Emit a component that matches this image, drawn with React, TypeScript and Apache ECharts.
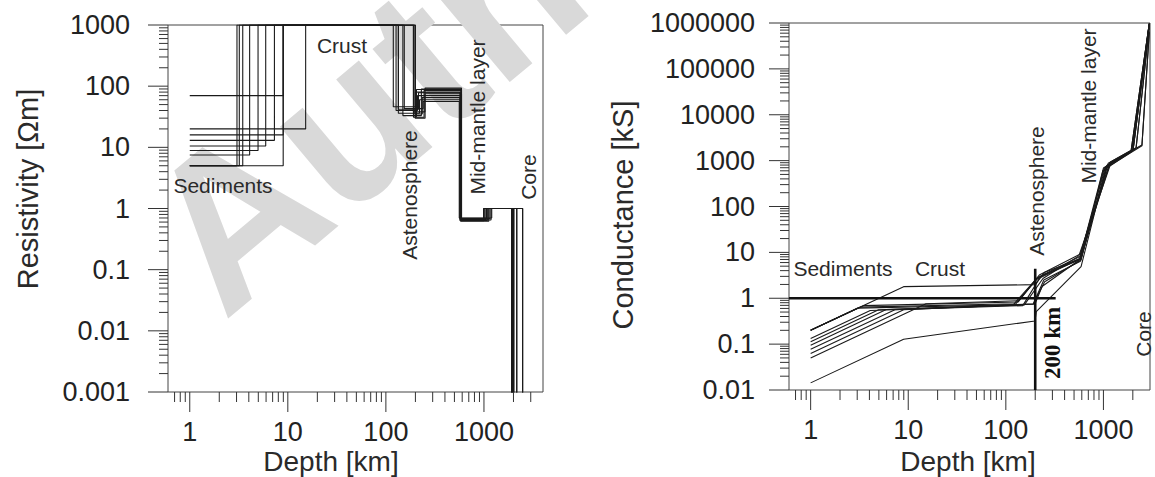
import React, { useEffect, useRef } from 'react';
import * as echarts from 'echarts';

// ---------- Left panel: layered resistivity models (one entry per model) ----------
const sedimentRes = [5, 5, 5, 5, 7.5, 8.9, 10.5, 13, 16, 20, 70];
const sedimentBase = [8.97, 3.03, 3.2, 3.47, 4.08, 4.97, 5.95, 7.3, 8.97, 15.2, 8.97];
const crustRes = [1000, 1000, 1000, 1000, 1000, 1000, 1000, 1000, 1000, 1000, 1000];
const crustBase = [199, 119, 127, 134, 149, 154, 191, 191, 199, 134, 199];
const asthenoRes = [30, 46, 40, 36, 33, 43, 38, 31, 35, 42, 32];
const asthenoBase = [251, 200, 210, 220, 230, 240, 250, 245, 235, 215, 205];
const upperMantleRes = [93, 80, 70, 60, 90, 56, 75, 85, 65, 78, 88];
const upperMantleBase = [590, 570, 575, 580, 585, 560, 590, 580, 570, 575, 590];
const midMantleRes = [0.65, 0.63, 0.66, 0.68, 0.64, 0.7, 0.66, 0.62, 0.67, 0.65, 0.69];
const midMantleBase = [1100, 1000, 1050, 1150, 1080, 1200, 990, 1120, 1020, 1180, 1060];
const lowerMantleRes = [1, 1, 1, 1, 1, 1, 1, 1, 1, 1, 1];
const coreTop = [2010, 1915, 1950, 2160, 2010, 2480, 1915, 2160, 2010, 1950, 2480];
const coreRes = [0.0008, 0.0008, 0.0008, 0.0008, 0.0008, 0.0008, 0.0008, 0.0008, 0.0008, 0.0008, 0.0008];
const profileStart = 1; // km
const profileEndLeft = 4000; // km

// ---------- Right panel: cumulative conductance (kS) at the same boundaries ----------
const condAt1km = [0.2, 0.2, 0.2, 0.2, 0.133, 0.112, 0.095, 0.077, 0.0625, 0.05, 0.0143];
const condSedBase = [1.79, 0.61, 0.64, 0.69, 0.54, 0.56, 0.57, 0.56, 0.56, 0.76, 0.128];
const condCrustBase = [1.98, 0.72, 0.76, 0.83, 0.69, 0.71, 0.75, 0.75, 0.75, 0.88, 0.32];
const condAsthBase = [3.7, 2.5, 2.8, 3.2, 3.1, 2.7, 2.3, 2.5, 1.8, 2.8, 0.51];
const condUpperBase = [7.4, 7.1, 8.1, 9.2, 7.1, 8.4, 6.8, 6.4, 6.9, 7.4, 4.9];
const condMidBase = [790, 690, 730, 850, 780, 920, 610, 880, 680, 940, 690];
const condLowerBase = [1700, 1600, 1630, 1860, 1710, 2200, 1540, 1920, 1670, 1710, 2100];
const condEnd = [950000, 980000, 960000, 800000, 940000, 650000, 990000, 800000, 940000, 960000, 620000];
const profileEndRight = 2950; // km
const refDepth = [200, 200]; // 200 km marker
const refDepthCond = [0.01, 4.4];
const refCondDepth = [0.6, 324]; // 1 kS marker
const refCond = [1, 1];

// ---------- Axis tick labels ----------
const depthMajor = [1, 10, 100, 1000];
const resMajor = [0.001, 0.01, 0.1, 1, 10, 100, 1000];
const condMajor = [0.01, 0.1, 1, 10, 100, 1000, 10000, 100000, 1000000];

const FONT = 'Liberation Sans, Arial, sans-serif';
const INK = '#1a1a1a';

function minorTicks(lo: number, hi: number) {
  const out: number[] = [];
  for (let e = -4; e <= 6; e++) {
    for (let m = 2; m <= 9; m++) {
      const v = Number((m * Math.pow(10, e)).toPrecision(6));
      if (v > lo * 1.0001 && v < hi * 0.9999) out.push(v);
    }
  }
  return out;
}

function decadeLabel(v: number) {
  const e = Math.log10(v);
  const r = Math.round(e);
  if (Math.abs(e - r) > 1e-6) return '';
  return r >= 0 ? String(Math.pow(10, r)) : Math.pow(10, r).toFixed(-r);
}

function tickSeries(idx: number, values: number[], dir: 'x' | 'y', anchor: number, len: number) {
  return {
    type: 'custom',
    xAxisIndex: idx,
    yAxisIndex: idx,
    silent: true,
    z: 4,
    data: values.map((v) => (dir === 'x' ? [v, anchor] : [anchor, v])),
    renderItem: (_p: any, api: any) => {
      const pt = api.coord([api.value(0), api.value(1)]);
      return {
        type: 'line',
        shape:
          dir === 'x'
            ? { x1: pt[0], y1: pt[1], x2: pt[0], y2: pt[1] + len }
            : { x1: pt[0], y1: pt[1], x2: pt[0] - len, y2: pt[1] },
        style: { stroke: '#333', lineWidth: 1 },
      };
    },
  };
}

function txt(text: string, x: number, y: number, size: number, rot = 0, extra: any = {}) {
  return {
    type: 'text',
    x,
    y,
    rotation: rot,
    z: 10,
    style: {
      text,
      fontSize: size,
      fontFamily: FONT,
      fill: '#2a2a2a',
      textAlign: 'center',
      textVerticalAlign: 'middle',
      ...extra,
    },
  };
}

export default function App() {
  const ref = useRef<HTMLDivElement>(null);

  useEffect(() => {
    if (!ref.current) return;
    const chart = echarts.init(ref.current, undefined, { renderer: 'svg' });
    const n = sedimentRes.length;

    const leftSeries: any[] = [];
    const rightSeries: any[] = [];
    for (let i = 0; i < n; i++) {
      const bounds = [sedimentBase[i], crustBase[i], asthenoBase[i], upperMantleBase[i], midMantleBase[i], coreTop[i]];
      const res = [sedimentRes[i], crustRes[i], asthenoRes[i], upperMantleRes[i], midMantleRes[i], lowerMantleRes[i], coreRes[i]];
      const pts: number[][] = [[profileStart, res[0]]];
      bounds.forEach((d, k) => {
        pts.push([d, res[k]]);
        pts.push([d, res[k + 1]]);
      });
      pts.push([profileEndLeft, res[res.length - 1]]);
      leftSeries.push({
        type: 'line',
        xAxisIndex: 0,
        yAxisIndex: 0,
        data: pts,
        symbol: 'none',
        silent: true,
        clip: true,
        lineStyle: { color: INK, width: 1.1 },
        z: 3,
      });

      const cpts = [
        [profileStart, condAt1km[i]],
        [sedimentBase[i], condSedBase[i]],
        [crustBase[i], condCrustBase[i]],
        [asthenoBase[i], condAsthBase[i]],
        [upperMantleBase[i], condUpperBase[i]],
        [midMantleBase[i], condMidBase[i]],
        [coreTop[i], condLowerBase[i]],
        [profileEndRight, condEnd[i]],
      ];
      rightSeries.push({
        type: 'line',
        xAxisIndex: 1,
        yAxisIndex: 1,
        data: cpts,
        symbol: 'none',
        silent: true,
        clip: true,
        lineStyle: { color: INK, width: 1.1 },
        z: 3,
      });
    }

    rightSeries.push({
      type: 'line',
      xAxisIndex: 1,
      yAxisIndex: 1,
      data: refCondDepth.map((d, k) => [d, refCond[k]]),
      symbol: 'none',
      silent: true,
      lineStyle: { color: '#111', width: 2.6 },
      z: 4,
    });
    rightSeries.push({
      type: 'line',
      xAxisIndex: 1,
      yAxisIndex: 1,
      data: refDepth.map((d, k) => [d, refDepthCond[k]]),
      symbol: 'none',
      silent: true,
      lineStyle: { color: '#111', width: 2.6 },
      z: 4,
    });

    const axisLabel = (margin: number) => ({
      formatter: decadeLabel,
      fontSize: 27,
      fontFamily: FONT,
      color: '#222',
      margin,
    });

    const logAxis = (idx: number, min: number, max: number, margin: number) => ({
      gridIndex: idx,
      type: 'log',
      logBase: 10,
      min,
      max,
      splitNumber: 10,
      axisLine: { show: false },
      axisTick: { show: false },
      minorTick: { show: false },
      splitLine: { show: false },
      axisLabel: axisLabel(margin),
    });

    const option: any = {
      animation: false,
      backgroundColor: '#ffffff',
      grid: [
        { left: 168, top: 25, width: 375, height: 367, show: true, borderColor: '#444', borderWidth: 1, backgroundColor: 'transparent' },
        { left: 789, top: 23, width: 361, height: 367, show: true, borderColor: '#444', borderWidth: 1, backgroundColor: 'transparent' },
      ],
      xAxis: [logAxis(0, 0.6, 4000, 26), logAxis(1, 0.6, 3000, 26)],
      yAxis: [logAxis(0, 0.001, 1000, 38), logAxis(1, 0.01, 1000000, 34)],
      series: [
        ...leftSeries,
        ...rightSeries,
        tickSeries(0, depthMajor, 'x', 0.001, 20),
        tickSeries(0, minorTicks(0.6, 4000), 'x', 0.001, 10),
        tickSeries(0, resMajor, 'y', 0.6, 20),
        tickSeries(0, minorTicks(0.001, 1000), 'y', 0.6, 9),
        tickSeries(1, depthMajor, 'x', 0.01, 20),
        tickSeries(1, minorTicks(0.6, 3000), 'x', 0.01, 10),
        tickSeries(1, condMajor, 'y', 0.6, 20),
        tickSeries(1, minorTicks(0.01, 1000000), 'y', 0.6, 9),
      ],
      graphic: [
        {
          type: 'text',
          x: 176,
          y: 265,
          rotation: (40 * Math.PI) / 180,
          z: 0,
          silent: true,
          style: {
            text: 'Author',
            fontSize: 215,
            fontWeight: 'bold',
            fontFamily: FONT,
            fill: '#d9d9d9',
            textAlign: 'left',
            textVerticalAlign: 'middle',
          },
        },
        txt('Resistivity [Ωm]', 28, 189, 29, Math.PI / 2),
        txt('Depth [km]', 331, 461, 28),
        txt('Conductance [kS]', 623, 215, 29, Math.PI / 2),
        txt('Depth [km]', 968, 461, 28),
        txt('Crust', 342, 45, 21),
        txt('Sediments', 223, 185, 21),
        txt('Astenosphere', 409, 195, 21, Math.PI / 2),
        txt('Mid-mantle layer', 477, 117, 21, Math.PI / 2),
        txt('Core', 528, 177, 21, Math.PI / 2),
        txt('Sediments', 843, 268, 21),
        txt('Crust', 940, 268, 21),
        txt('Astenosphere', 1036, 191, 21, Math.PI / 2),
        txt('Mid-mantle layer', 1088, 106, 21, Math.PI / 2),
        txt('Core', 1143, 334, 21, Math.PI / 2),
        txt('200 km', 1052, 343, 23, Math.PI / 2, { fontFamily: 'Liberation Serif, Times New Roman, serif', fontWeight: 'bold', fill: '#111' }),
      ],
    };

    chart.setOption(option);
    return () => chart.dispose();
  }, []);

  return (
    <div
      ref={ref}
      style={{ position: 'fixed', left: 0, top: 0, width: 1155, height: 477, background: '#fff' }}
    />
  );
}
